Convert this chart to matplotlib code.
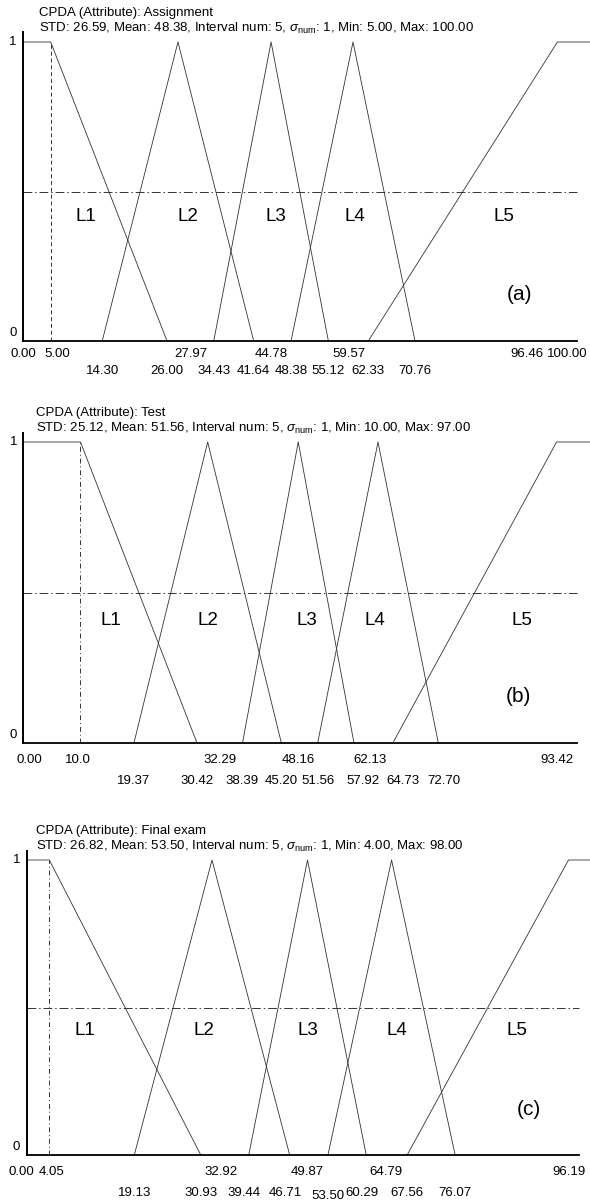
import matplotlib
matplotlib.use("Agg")
import matplotlib.pyplot as plt

plt.rcParams['font.family'] = ['Liberation Sans', 'DejaVu Sans']
plt.rcParams['mathtext.fontset'] = 'custom'
plt.rcParams['mathtext.rm'] = 'Liberation Sans'
plt.rcParams['mathtext.it'] = 'Liberation Sans:italic'

# ---------------- data ----------------
# panel (a): Assignment
a_title = "CPDA (Attribute): Assignment"
a_stats = r"STD: 26.59, Mean: 48.38, Interval num: 5, $\sigma_{\mathrm{num}}$: 1, Min: 5.00, Max: 100.00"
a_min, a_max = 5.00, 100.00
a_L1 = [0.00, 5.00, 26.00]
a_L2 = [14.30, 27.97, 41.64]
a_L3 = [34.43, 44.78, 55.12]
a_L4 = [48.38, 59.57, 70.76]
a_L5 = [62.33, 96.46]
a_row1 = ["0.00", "5.00", "27.97", "44.78", "59.57", "96.46", "100.00"]
a_row2 = ["14.30", "26.00", "34.43", "41.64", "48.38", "55.12", "62.33", "70.76"]

# panel (b): Test
b_title = "CPDA (Attribute): Test"
b_stats = r"STD: 25.12, Mean: 51.56, Interval num: 5, $\sigma_{\mathrm{num}}$: 1, Min: 10.00, Max: 97.00"
b_min, b_max = 10.0, 97.00
b_L1 = [0.00, 10.0, 30.42]
b_L2 = [19.37, 32.29, 45.20]
b_L3 = [38.39, 48.16, 57.92]
b_L4 = [51.56, 62.13, 72.70]
b_L5 = [64.73, 93.42]
b_row1 = ["0.00", "10.0", "32.29", "48.16", "62.13", "93.42"]
b_row2 = ["19.37", "30.42", "38.39", "45.20", "51.56", "57.92", "64.73", "72.70"]

# panel (c): Final exam
c_title = "CPDA (Attribute): Final exam"
c_stats = r"STD: 26.82, Mean: 53.50, Interval num: 5, $\sigma_{\mathrm{num}}$: 1, Min: 4.00, Max: 98.00"
c_min, c_max = 4.05, 98.00
c_L1 = [0.00, 4.05, 30.93]
c_L2 = [19.13, 32.92, 46.71]
c_L3 = [39.44, 49.87, 60.29]
c_L4 = [53.50, 64.79, 76.07]
c_L5 = [67.56, 96.19]
c_row1 = ["0.00", "4.05", "32.92", "49.87", "64.79", "96.19"]
c_row2 = ["19.13", "30.93", "39.44", "46.71", "53.50", "60.29", "67.56", "76.07"]

level_names = ["L1", "L2", "L3", "L4", "L5"]

# ---------------- layout (pixels) ----------------
W, H = 590, 1201
panels = [
    dict(tag="(a)", title=a_title, stats=a_stats, mn=a_min, mx=a_max,
         mfs=[a_L1, a_L2, a_L3, a_L4, a_L5], row1=a_row1, row2=a_row2,
         spine_x=23, base_y=341, one_y=42, top_y=32, end_px=577, title_x=39,
         r1=13, r2=30, vstyle=(0, (4, 3)),
         lx=[11.3, 29.8, 45.7, 59.9, 86.8], ly=0.415, tagx=89.7,
         dx1={"5.00": 7, "27.97": 13, "59.57": -4, "96.46": -30, "100.00": -10},
         dx2={}, dy2={}),
    dict(tag="(b)", title=b_title, stats=b_stats, mn=b_min, mx=b_max,
         mfs=[b_L1, b_L2, b_L3, b_L4, b_L5], row1=b_row1, row2=b_row2,
         spine_x=23.4, base_y=743, one_y=442, top_y=433, end_px=577, title_x=36,
         r1=17, r2=38, vstyle=(0, (5, 3, 1, 3)),
         lx=[15.4, 32.4, 49.6, 61.6, 87.4], ly=0.408, tagx=86.8,
         dx1={"0.00": 6, "10.0": -3, "32.29": 12, "62.13": -8},
         dx2={"57.92": 9, "64.73": 10, "72.70": 6}, dy2={}),
    dict(tag="(c)", title=c_title, stats=c_stats, mn=c_min, mx=c_max,
         mfs=[c_L1, c_L2, c_L3, c_L4, c_L5], row1=c_row1, row2=c_row2,
         spine_x=26.5, base_y=1155, one_y=860, top_y=851, end_px=578.7, title_x=36,
         r1=17, r2=38, vstyle=(0, (5, 3, 1, 3)),
         lx=[10.4, 31.5, 50.0, 65.7, 87.1], ly=0.423, tagx=89.2,
         dx1={"0.00": -5, "4.05": 2, "32.92": 9, "64.79": -6},
         dx2={"39.44": -5, "46.71": -4, "60.29": -4}, dy2={"53.50": 3}),
]

fig = plt.figure(figsize=(W / 100, H / 100), dpi=100)
small = 9.5
line_c = "#333333"

for p in panels:
    left = p["spine_x"] / W
    width = (W - p["spine_x"]) / W
    bottom = (H - p["base_y"]) / H
    height = (p["base_y"] - p["top_y"]) / H
    ax = fig.add_axes([left, bottom, width, height])
    ytop = (p["base_y"] - p["top_y"]) / (p["base_y"] - p["one_y"])
    xright = p["mx"] * (W - p["spine_x"]) / (p["end_px"] - p["spine_x"])
    ax.set_xlim(0, xright)
    ax.set_ylim(0, ytop)

    for s in ("top", "right"):
        ax.spines[s].set_visible(False)
    ax.spines["left"].set_linewidth(1.4)
    ax.spines["bottom"].set_linewidth(1.3)
    ax.spines["bottom"].set_bounds(0, p["mx"])
    ax.set_xticks([])
    ax.set_yticks([])

    # membership functions
    L1, L2, L3, L4, L5 = p["mfs"]
    ax.plot(L1, [1, 1, 0], color=line_c, lw=0.6, clip_on=False)
    for tri in (L2, L3, L4):
        ax.plot(tri, [0, 1, 0], color=line_c, lw=0.6, clip_on=False)
    ax.plot(list(L5) + [xright], [0, 1, 1], color=line_c, lw=0.6, clip_on=False)

    # reference lines
    ax.plot([0, p["mx"]], [0.5, 0.5], color=line_c, lw=0.7,
            linestyle=(0, (9, 3, 1.5, 3)))
    ax.plot([p["mn"], p["mn"]], [0, 1], color=line_c, lw=0.7,
            linestyle=p["vstyle"])

    # y labels
    ax.annotate("1", xy=(0, 1), xytext=(-10, 0), textcoords="offset pixels",
                ha="center", va="center", fontsize=small, annotation_clip=False)
    ax.annotate("0", xy=(0, 0), xytext=(-10, 8), textcoords="offset pixels",
                ha="center", va="center", fontsize=small, annotation_clip=False)

    # x labels (two rows)
    for lab in p["row1"]:
        ax.annotate(lab, xy=(float(lab), 0),
                    xytext=(p["dx1"].get(lab, 0), -p["r1"]),
                    textcoords="offset pixels", ha="center", va="center",
                    fontsize=small, annotation_clip=False)
    for lab in p["row2"]:
        ax.annotate(lab, xy=(float(lab), 0),
                    xytext=(p["dx2"].get(lab, 0), -p["r2"] - p["dy2"].get(lab, 0)),
                    textcoords="offset pixels", ha="center", va="center",
                    fontsize=small, annotation_clip=False)

    # level names and panel tag
    for name, x in zip(level_names, p["lx"]):
        ax.text(x, p["ly"], name, ha="center", va="center", fontsize=13.5)
    ax.text(p["tagx"], 0.155, p["tag"], ha="center", va="center", fontsize=15)

    # titles
    fig.text(p["title_x"] / W, 1 - (p["one_y"] - 29) / H, p["title"],
             ha="left", va="center", fontsize=small)
    fig.text(p["title_x"] / W, 1 - (p["one_y"] - 14) / H, p["stats"],
             ha="left", va="center", fontsize=small)

fig.savefig("out.png", dpi=100)
